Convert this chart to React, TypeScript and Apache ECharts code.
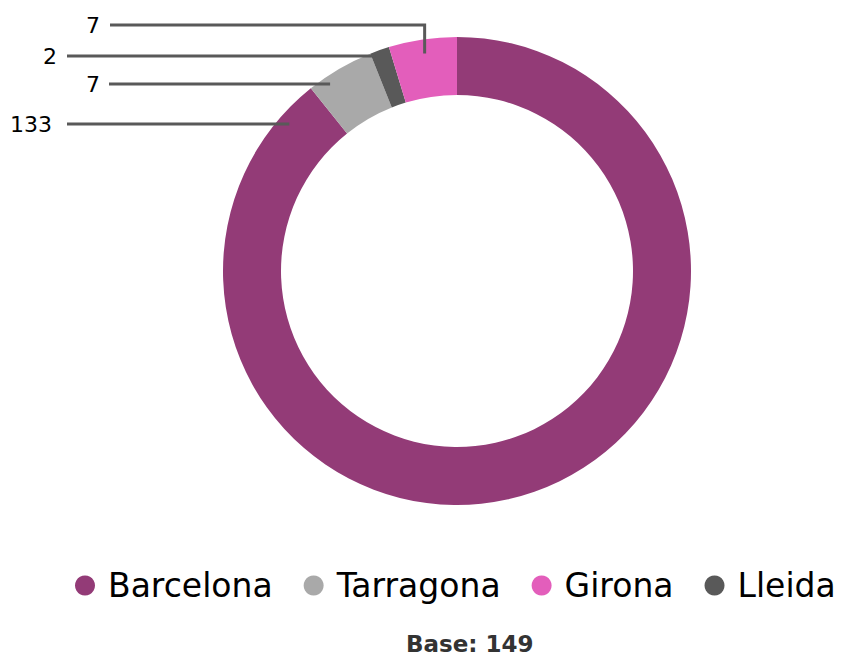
import React, { useEffect, useRef } from "react";
import * as echarts from "echarts";

// ---- Data ----
const categories = ["Barcelona", "Tarragona", "Lleida", "Girona"]; // clockwise from top
const values = [133, 7, 2, 7];
const legendOrder = ["Barcelona", "Tarragona", "Girona", "Lleida"];
const colors = ["#933B77", "#A9A9A9", "#595959", "#E35EBB"];

// ---- Layout (chart pixel space) ----
const CX = 449;
const CY = 263;
const R_IN = 176;
const R_OUT = 234;
// label placement per data index: text right edge, text middle y, line start x, anchor radius, bend
const labelRight = [44, 92, 49, 92];
const labelY = [116, 76, 48, 17];
const lineStart = [59, 101, 59, 102];
const anchorR = [223, 226, 230, 220];
const bend = [false, false, false, true];

const FONT = "'DejaVu Sans', Verdana, sans-serif";

export default function App() {
  const ref = useRef<HTMLDivElement>(null);
  useEffect(() => {
    if (!ref.current) return;
    const chart = echarts.init(ref.current, null, { renderer: "svg" });
    const total = values.reduce((a, b) => a + b, 0);
    const cum: number[] = [];
    let s = 0;
    values.forEach((v) => {
      cum.push(s);
      s += v;
    });
    const pieData = categories.map((name, i) => ({ name, value: values[i] }));

    chart.setOption({
      animation: false,
      color: colors,
      legend: {
        data: legendOrder,
        left: 67,
        top: 561,
        width: 800,
        padding: 0,
        icon: "circle",
        itemWidth: 20,
        itemHeight: 20,
        itemGap: 31,
        textStyle: {
          fontFamily: FONT,
          fontSize: 33,
          color: "#000",
          padding: [0, 0, 0, 8],
        },
      },
      title: {
        text: `Base: ${total}`,
        left: 398,
        top: 624,
        padding: 0,
        textStyle: {
          fontFamily: FONT,
          fontSize: 23,
          lineHeight: 23,
          fontWeight: "bold",
          color: "#333",
        },
      },
      series: [
        {
          type: "pie",
          center: [CX, CY],
          radius: [R_IN, R_OUT],
          startAngle: 90,
          clockwise: true,
          emphasis: { disabled: true },
          data: pieData,
          label: { show: false },
          labelLine: { show: false },
        },
        {
          type: "pie",
          z: 5,
          silent: true,
          center: [CX, CY],
          radius: [R_IN, R_OUT],
          startAngle: 90,
          clockwise: true,
          emphasis: { disabled: true },
          itemStyle: { color: "rgba(0,0,0,0)" },
          data: pieData,
          label: {
            show: true,
            position: "outside",
            formatter: "{c}",
            fontFamily: FONT,
            fontSize: 22,
            color: "#000",
          },
          labelLine: {
            show: true,
            lineStyle: { color: "#595959", width: 3 },
          },
          labelLayout: (params: any) => {
            const i = params.dataIndex;
            const y = labelY[i];
            let points: number[][];
            if (bend[i]) {
              const th = ((cum[i] + values[i] / 2) / total) * Math.PI * 2;
              const ax = CX + anchorR[i] * Math.sin(th);
              const ay = CY - anchorR[i] * Math.cos(th);
              points = [
                [lineStart[i], y],
                [ax, y],
                [ax, ay],
              ];
            } else {
              const dy = y - CY;
              const ax = CX - Math.sqrt(anchorR[i] * anchorR[i] - dy * dy);
              points = [
                [lineStart[i], y],
                [(lineStart[i] + ax) / 2, y],
                [ax, y],
              ];
            }
            return {
              x: labelRight[i],
              y,
              align: "right",
              verticalAlign: "middle",
              labelLinePoints: points,
            };
          },
        },
      ],
    });
    return () => chart.dispose();
  }, []);
  return <div ref={ref} style={{ width: 827, height: 648 }} />;
}
